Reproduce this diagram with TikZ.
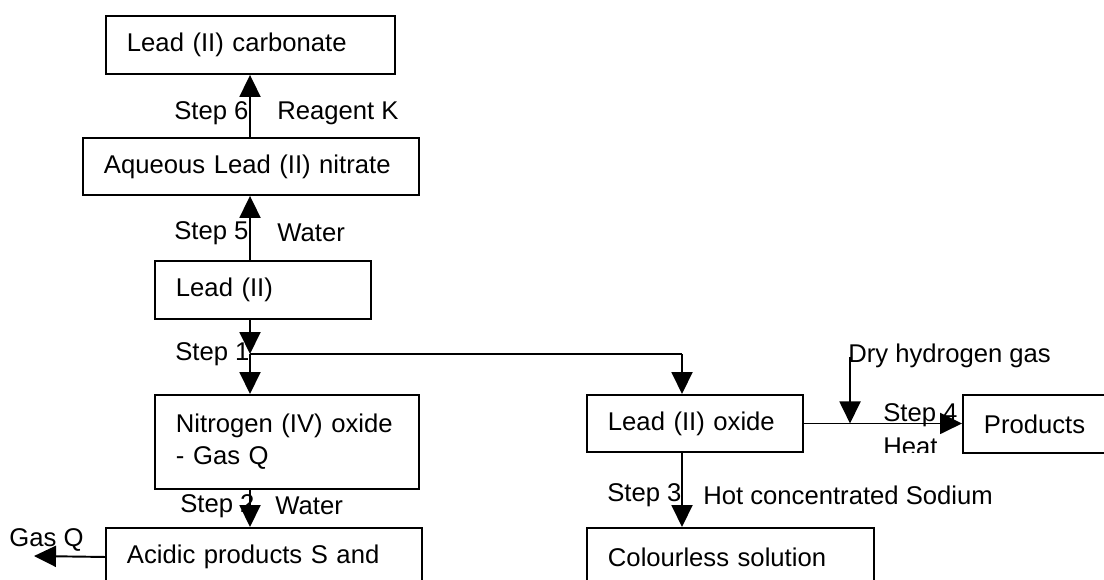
\documentclass[tikz,border=0pt]{standalone}
\usepackage{fontspec}
\setmainfont{Liberation Sans}
\usetikzlibrary{arrows.meta}
\tikzset{
  box/.style={draw, line width=1.1pt, align=left, anchor=north west,
    inner xsep=0.42cm, inner ysep=0pt, font=\fontsize{14.6}{18.2}\selectfont},
  lbl/.style={anchor=west, inner sep=0pt, font=\fontsize{14.6}{18.2}\selectfont},
  flow/.style={line width=1.1pt, -{Triangle[length=0.44cm,width=0.42cm]}}
}
\begin{document}
\begin{tikzpicture}[x=0.02cm,y=-0.02cm]
   \useasboundingbox (0,0) rectangle (1104,579);
   \clip (0,0) rectangle (1104,579);
   % boxes
   \node[box, text width=4.94cm, minimum height=1.16cm] (carb) at (105,15) {Lead (II) carbonate};
   \node[box, text width=5.88cm, minimum height=1.14cm] (nitr) at (82,137) {Aqueous Lead (II) nitrate};
   \node[box, text width=3.48cm, minimum height=1.16cm] (lead) at (154,260) {Lead (II)};
   \node[box, text width=4.44cm, minimum height=1.88cm] (no2) at (154,394) {Nitrogen (IV) oxide\\- Gas Q};
   \node[box, text width=5.48cm, minimum height=1.16cm] (acid) at (105,527) {Acidic products S and};
   \node[box, text width=3.48cm, minimum height=1.14cm] (pbo) at (586,394) {Lead (II) oxide};
   \node[box, text width=2.36cm, minimum height=1.16cm] (prod) at (962,394) {Products};
   \node[box, text width=4.90cm, minimum height=1.16cm] (colr) at (586,527) {Colourless solution};
   % labels
   \node[lbl] (s6) at (174,113) {Step 6};
   \node[lbl] (rk) at (277,113) {Reagent K};
   \node[lbl] (s5) at (174,233) {Step 5};
   \node[lbl] (w5) at (277,233) {Water};
   \node[lbl] (s1) at (175,354) {Step 1};
   \node[lbl] (s2) at (180,506) {Step 2};
   \node[lbl] (w2) at (275,506) {Water};
   \node[lbl] (gas) at (9,540) {Gas Q};
   \node[lbl] (dry) at (848,356) {Dry hydrogen gas};
   \node[lbl] (s4) at (883,415) {Step 4};
   \begin{scope}
     \clip (850,380) rectangle (962,452);
     \node[lbl] (heat) at (883,447) {Heat};
   \end{scope}
   \node[lbl] (s3) at (607,495) {Step 3};
   \node[lbl] (naoh) at (703,495) {Hot concentrated Sodium};
   % connectors
   \coordinate (j) at (250,354);
   \coordinate (k) at (682,354);
   \coordinate (h2) at (850,357);
   \coordinate (gq) at (34,556);
   \draw[flow] (nitr.north -| j) -- (carb.south -| j);
   \draw[flow] (lead.north -| j) -- (nitr.south -| j);
   \draw[flow] (lead.south -| j) -- (j);
   \draw[flow] (j) -- (no2.north -| j);
   \draw[line width=1.1pt] (j) -- (k);
   \draw[flow] (k) -- (k |- pbo.north);
   \draw[flow] (no2.south -| j) -- (acid.north -| j);
   \draw[flow] (acid.west) -- (gq);
   \draw[flow] (k |- pbo.south) -- (k |- colr.north);
   \draw[flow] (pbo.east) -- (pbo.east -| prod.west);
   \draw[flow] (h2) -- (h2 |- pbo.east);
\end{tikzpicture}
\end{document}
